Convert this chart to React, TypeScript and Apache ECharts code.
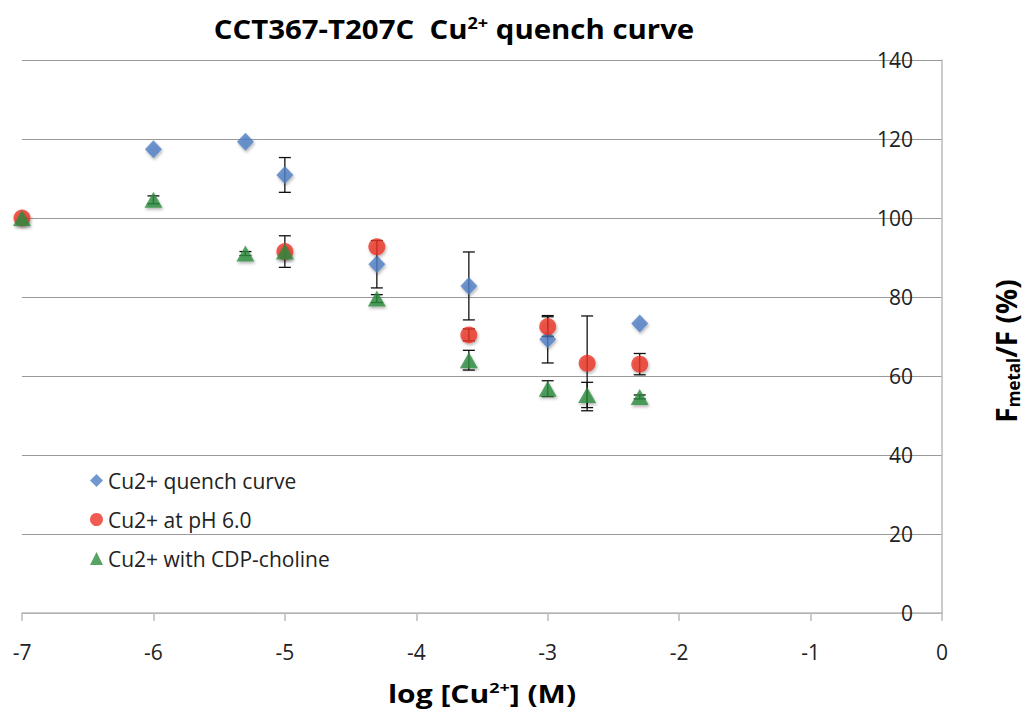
import React, { useEffect, useRef } from "react";
import * as echarts from "echarts";

const seriesNames = ["Cu2+ quench curve", "Cu2+ at pH 6.0", "Cu2+ with CDP-choline"];

const quenchX = [-6, -5.3, -5, -4.3, -3.6, -3, -2.3];
const quenchY = [117.4, 119.3, 110.9, 88.3, 82.8, 69.3, 73.3];
const quenchErr = [0, 0, 4.4, 6, 8.6, 6, 0];

const phX = [-7, -5, -4.3, -3.6, -3, -2.7, -2.3];
const phY = [100, 91.5, 92.7, 70.4, 72.5, 63.2, 63];
const phErr = [0, 4, 0, 1.5, 2.5, 12, 2.7];

const cdpX = [-7, -6, -5.3, -5, -4.3, -3.6, -3, -2.7, -2.3];
const cdpY = [100, 104.6, 91, 91.5, 79.6, 64, 56.8, 55.2, 54.7];
const cdpErr = [0, 1, 0.5, 0, 1, 2.5, 2, 3.2, 0.5];

const xTicks = [-7, -6, -5, -4, -3, -2, -1, 0];
const yTicks = [0, 20, 40, 60, 80, 100, 120, 140];

const FONT = "'Open Sans', Lato, sans-serif";

function pts(xs: number[], ys: number[]) {
  return xs.map((x, i) => [x, ys[i]]);
}
function errs(xs: number[], ys: number[], es: number[]) {
  return xs
    .map((x, i) => [x, ys[i] - es[i], ys[i] + es[i]])
    .filter((_, i) => es[i] > 0);
}

export default function App() {
  const ref = useRef<HTMLDivElement>(null);
  useEffect(() => {
    document.body.style.margin = "0";
    const chart = echarts.init(ref.current!, undefined, { renderer: "svg" });
    const errorData = [
      ...errs(quenchX, quenchY, quenchErr),
      ...errs(phX, phY, phErr),
      ...errs(cdpX, cdpY, cdpErr),
    ];
    const shadow = {
      shadowBlur: 3,
      shadowColor: "rgba(0,0,0,0.35)",
      shadowOffsetX: 1,
      shadowOffsetY: 2,
    };
    const bold = { fontWeight: "bold", fontFamily: FONT, color: "#111" };
    chart.setOption({
      animation: false,
      backgroundColor: "#ffffff",
      grid: { left: 22, right: 87, top: 60, bottom: 102 },
      legend: {
        orient: "vertical",
        left: 85,
        top: 464,
        itemWidth: 13,
        itemHeight: 13,
        itemGap: 16,
        data: seriesNames,
        textStyle: { fontSize: 21, color: "#222", fontFamily: FONT, lineHeight: 23 },
      },
      xAxis: {
        type: "value",
        min: xTicks[0],
        max: xTicks[xTicks.length - 1],
        interval: 1,
        splitLine: { show: false },
        axisLine: { lineStyle: { color: "#bbb", width: 1.5 } },
        axisTick: { show: true, length: 8, lineStyle: { color: "#bbb", width: 1.5 } },
        axisLabel: { fontSize: 21, color: "#222", margin: 28, fontFamily: FONT },
      },
      yAxis: {
        type: "value",
        position: "right",
        min: yTicks[0],
        max: yTicks[yTicks.length - 1],
        interval: 20,
        splitLine: { show: true, lineStyle: { color: "#999", width: 1 } },
        axisLine: { show: true, lineStyle: { color: "#bbb", width: 1.5 } },
        axisTick: { show: false },
        axisLabel: { inside: true, margin: 29, fontSize: 21, color: "#222", fontFamily: FONT },
      },
      graphic: [
        {
          type: "text",
          x: 454,
          y: 29,
          scaleX: 1.13,
          style: {
            x: 0,
            y: 0,
            align: "center",
            verticalAlign: "middle",
            text: "{m|CCT367-T207C  Cu}{s|2+}{m| quench curve}",
            rich: {
              m: { fontSize: 26, lineHeight: 32, ...bold },
              s: { fontSize: 16, lineHeight: 32, padding: [0, 0, 12, 0], ...bold },
            },
          },
        },
        {
          type: "text",
          x: 482,
          y: 693,
          scaleX: 1.2,
          style: {
            x: 0,
            y: 0,
            align: "center",
            verticalAlign: "middle",
            text: "{m|log [Cu}{s|2+}{m|] (M)}",
            rich: {
              m: { fontSize: 25, lineHeight: 32, ...bold },
              s: { fontSize: 15, lineHeight: 32, padding: [0, 0, 12, 0], ...bold },
            },
          },
        },
        {
          type: "text",
          x: 1006,
          y: 351,
          rotation: Math.PI / 2,
          style: {
            x: 0,
            y: 0,
            align: "center",
            verticalAlign: "middle",
            text: "{m|F}{s|metal}{m|/F (%)}",
            rich: {
              m: { fontSize: 28, lineHeight: 36, ...bold },
              s: { fontSize: 17, lineHeight: 36, padding: [14, 0, 0, 0], ...bold },
            },
          },
        },
      ],
      series: [
        {
          type: "custom",
          name: "errors",
          z: 1,
          data: errorData,
          encode: { x: 0, y: [1, 2] },
          renderItem: (params: any, api: any) => {
            const x = api.value(0);
            const lo = api.coord([x, api.value(1)]);
            const hi = api.coord([x, api.value(2)]);
            const style = { stroke: "#111", lineWidth: 1.3 };
            const w = 6;
            return {
              type: "group",
              children: [
                { type: "line", shape: { x1: lo[0], y1: lo[1], x2: hi[0], y2: hi[1] }, style },
                { type: "line", shape: { x1: lo[0] - w, y1: lo[1], x2: lo[0] + w, y2: lo[1] }, style },
                { type: "line", shape: { x1: hi[0] - w, y1: hi[1], x2: hi[0] + w, y2: hi[1] }, style },
              ],
            };
          },
        },
        {
          type: "scatter",
          name: seriesNames[0],
          z: 3,
          symbol: "diamond",
          symbolSize: [17, 18],
          itemStyle: { color: "#4F7EC4", ...shadow },
          data: pts(quenchX, quenchY),
        },
        {
          type: "scatter",
          name: seriesNames[1],
          z: 4,
          symbol: "circle",
          symbolSize: 17,
          itemStyle: { color: "#EC3326", ...shadow },
          data: pts(phX, phY),
        },
        {
          type: "scatter",
          name: seriesNames[2],
          z: 5,
          symbol: "triangle",
          symbolSize: [18, 16],
          itemStyle: { color: "#2C8C3F", ...shadow },
          data: pts(cdpX, cdpY),
        },
      ],
    });
    return () => chart.dispose();
  }, []);
  return <div ref={ref} style={{ width: 1029, height: 715 }} />;
}
